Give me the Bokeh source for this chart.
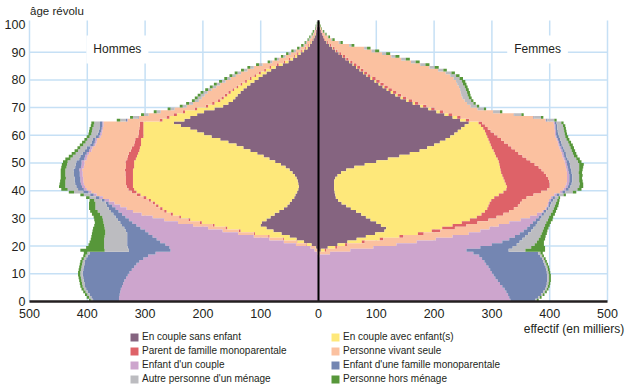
import numpy as np
from bokeh.plotting import figure
from bokeh.models import Label, Legend, LegendItem, Range1d
from bokeh.core.properties import value
from bokeh.embed import file_html
from bokeh.resources import INLINE

ages = list(range(0, 101))

categories = ["En couple sans enfant", "En couple avec enfant(s)",
              "Parent de famille monoparentale", "Personne vivant seule",
              "Enfant d'un couple", "Enfant d'une famille monoparentale",
              "Autre personne d'un ménage", "Personne hors ménage"]
colors = ["#856480", "#fee87a", "#de6268", "#fbc1a0",
          "#cda5cd", "#7486b2", "#bcbcc0", "#57973a"]

x_ticks = [-500, -400, -300, -200, -100, 0, 100, 200, 300, 400, 500]
x_tick_labels = ["500", "400", "300", "200", "100", "0", "100", "200", "300", "400", "500"]
y_ticks = [0, 10, 20, 30, 40, 50, 60, 70, 80, 90, 100]
y_tick_labels = ["0", "10", "20", "30", "40", "50", "60", "70", "80", "90", "100"]

# ---------------- Hommes (milliers) ----------------
men_sans = [0,0,0,0,0,0,0,0,0,0, 0,0,0,0,0,0,0,0,2,5,
            12,25,38,50,64,78,90,100,98,90, 83,76,68,60,54,50,46,42,40,37,
            35,34,35,36,38,41,45,50,57,65, 75,85,95,106,118,130,142,156,170,185,
            198,210,222,238,250,232,222,210,198,180, 165,156,148,144,140,135,130,124,118,111,
            104,97,90,82,74,62,52,44,37,31, 25,19,15,12,9,7,5,4,3,2, 1]
men_avec = [0,0,0,0,0,0,0,0,0,0, 0,0,0,0,0,0,0,0,0,1,
            8,12,22,35,46,57,68,80,104,132, 155,176,195,210,223,233,244,256,268,278,
            284,287,286,285,283,280,276,271,262,254, 244,231,219,206,192,179,165,151,137,118,
            105,93,81,65,53,38,36,35,33,30, 26,24,22,20,18,17,16,15,14,13,
            12,11,10,9,8,7,6,5,4,4, 3,3,2,2,1,1,1,0,0,0, 0]
men_parent = [0,0,0,0,0,0,0,0,0,0, 0,0,0,0,0,0,0,0,0,0,
              1,1,2,2,2,3,3,3,3,3, 3,4,4,4,4,4,4,5,6,8,
              10,11,12,12,12,13,13,14,14,14, 15,15,16,16,15,14,12,11,10,9,
              8,8,7,6,6,5,5,5,4,4, 4,4,4,4,4,4,3,3,3,3,
              3,3,3,3,3,3,2,2,2,2, 2,2,2,1,1,1,1,1,0,0, 0]
men_seule = [0,0,0,0,0,0,0,0,0,0, 0,0,0,0,0,0,0,2,5,8,
             18,22,23,25,27,28,30,34,38,42, 46,50,54,58,62,66,68,70,70,70,
             72,72,73,74,74,74,74,74,73,72, 71,70,70,69,68,68,67,66,66,65,
             64,63,63,63,63,55,48,44,38,35, 33,33,33,34,35,36,36,35,35,34,
             33,32,31,29,27,25,20,17,14,11, 9,7,5,5,4,3,2,2,1,1, 0]
men_enf_couple = [345,345,344,343,342,340,338,336,333,330, 327,323,319,315,310,303,295,280,249,244,
                  226,214,195,175,155,134,117,98,79,61, 47,34,25,19,14,10,8,6,5,5,
                  5,5,5,5,5,5,5,5,5,5, 5,4,4,4,4,4,3,3,3,3,
                  3,2,2,2,2,1,0,0,0,0, 0,0,0,0,0,0,0,0,0,0,
                  0,0,0,0,0,0,0,0,0,0, 0,0,0,0,0,0,0,0,0,0, 0]
men_enf_mono = [45,48,52,56,60,64,67,70,74,78, 81,84,87,90,94,99,104,114,72,72,
                66,57,51,44,37,33,28,25,21,19, 17,15,13,12,9,5,5,6,6,9,
                10,10,10,10,10,10,10,10,10,10, 9,9,8,7,7,6,6,5,5,5,
                4,4,4,4,4,2,1,0,0,0, 0,0,0,0,0,0,0,0,0,0,
                0,0,0,0,0,0,0,0,0,0, 0,0,0,0,0,0,0,0,0,0, 0]
men_autre = [4,4,4,4,4,4,4,4,4,4, 4,4,4,4,4,4,4,4,42,41,
             40,40,40,39,38,36,34,31,29,26, 23,23,23,23,20,18,13,11,11,16,
             18,19,17,16,15,15,15,14,15,15, 15,15,13,12,12,11,12,11,9,11,
             11,12,12,11,10,10,9,8,7,7, 7,7,7,7,7,7,6,6,6,6,
             6,6,6,6,6,6,4,4,4,4, 4,2,2,2,2,2,1,1,1,1, 1]
men_hors = [3,4,4,4,4,4,4,4,4,4, 4,4,4,4,4,4,4,6,42,31,
            27,25,23,23,23,22,20,17,15,15, 15,14,13,11,11,11,8,6,6,9,
            11,11,10,9,9,8,8,8,9,9, 8,9,7,7,6,5,6,6,5,5,
            5,5,5,5,5,6,5,5,5,5, 5,5,5,5,5,5,5,5,5,5,
            5,5,5,5,5,5,4,4,4,4, 4,4,4,2,2,2,2,2,1,1, 1]

# ---------------- Femmes (milliers) ----------------
women_sans = [0,0,0,0,0,0,0,0,0,0, 0,0,0,0,0,0,0,0,4,16,
              33,50,66,82,98,114,117,108,100,90, 82,74,65,56,48,40,34,30,29,28,
              27,27,27,27,29,33,39,48,62,80, 100,120,140,158,175,188,200,210,220,228,
              235,241,247,253,260,245,232,218,204,190, 176,163,152,142,133,125,118,111,104,97,
              90,83,77,71,65,59,53,47,41,35, 29,24,19,14,10,8,6,4,3,2, 1]
women_avec = [0,0,0,0,0,0,0,0,0,0, 0,0,0,0,0,0,0,0,7,13,
              13,25,40,58,74,82,97,124,148,172, 192,208,223,236,246,256,265,274,283,292,
              298,299,297,295,291,285,277,267,252,233, 212,190,167,147,128,112,98,86,74,64,
              55,47,38,28,17,10,8,7,6,5, 5,4,4,4,4,4,3,3,3,3,
              3,2,2,2,2,2,2,1,1,1, 1,1,1,1,0,0,0,0,0,0, 0]
women_parent = [0,0,0,0,0,0,0,0,0,0, 0,0,0,0,0,0,0,0,2,3,
                4,5,6,7,10,15,22,24,27,32, 34,38,42,46,51,53,53,56,60,65,
                71,74,76,77,77,76,74,71,67,61, 55,50,46,41,37,34,30,25,22,18,
                14,10,8,7,6,6,6,6,6,6, 6,6,6,6,6,6,6,6,6,6,
                6,5,5,5,5,5,4,4,4,3, 3,3,2,2,1,1,1,1,0,0, 0]
women_seule = [0,0,0,0,0,0,0,0,0,0, 0,0,0,0,0,0,2,20,42,63,
               85,90,91,85,78,69,60,56,55,56, 58,58,58,55,51,48,47,42,36,33,
               28,27,29,31,33,36,40,43,47,53, 59,64,69,75,79,83,87,93,96,100,
               105,111,115,120,124,132,126,107,86,74, 76,84,91,97,104,111,118,123,127,132,
               135,138,136,129,120,110,101,91,80,71, 59,51,31,18,11,7,4,2,2,1, 0]
women_enf_couple = [332,330,328,325,322,318,314,310,306,303, 300,297,294,290,287,283,276,248,201,185,
                    165,148,127,108,88,75,65,54,41,26, 15,8,2,2,2,2,3,3,4,4,
                    4,4,4,4,4,4,3,3,3,3, 3,3,3,3,3,3,2,2,2,2,
                    2,2,2,2,2,1,0,0,0,0, 0,0,0,0,0,0,0,0,0,0,
                    0,0,0,0,0,0,0,0,0,0, 0,0,0,0,0,0,0,0,0,0, 0]
women_enf_mono = [43,50,57,64,70,76,81,86,90,93, 95,97,99,101,102,104,106,112,73,56,
                  43,30,23,18,15,13,11,10,8,7, 5,4,4,3,3,4,4,4,5,5,
                  5,5,5,5,5,5,5,5,5,5, 5,4,4,4,4,4,4,4,4,4,
                  4,3,3,3,3,2,1,1,0,0, 0,0,0,0,0,0,0,0,0,0,
                  0,0,0,0,0,0,0,0,0,0, 0,0,0,0,0,0,0,0,0,0, 0]
women_autre = [3,3,3,3,3,3,3,3,3,3, 3,3,3,3,3,3,3,4,29,32,
               31,30,28,26,23,20,18,16,15,14, 13,12,11,9,8,8,7,6,7,13,
               15,15,14,12,12,12,12,14,15,16, 15,15,13,12,12,12,13,12,11,11,
               11,11,11,10,8,12,12,12,12,11, 11,11,11,11,11,11,10,10,10,10,
               10,10,10,9,9,9,8,8,7,7, 6,5,4,3,2,1,1,1,0,0, 0]
women_hors = [3,3,3,3,3,3,3,3,3,3, 3,3,3,3,3,3,3,4,34,24,
              16,12,11,9,9,8,8,8,8,8, 7,7,6,6,6,5,4,3,4,6,
              7,7,6,6,5,6,6,6,7,8, 6,6,6,6,6,6,6,5,5,5,
              4,4,4,4,4,4,4,4,4,4, 4,4,4,5,5,5,5,5,6,6,
              6,6,6,6,7,7,7,7,7,7, 7,6,5,4,4,3,2,2,1,1, 1]

men = [men_sans, men_avec, men_parent, men_seule,
       men_enf_couple, men_enf_mono, men_autre, men_hors]
women = [women_sans, women_avec, women_parent, women_seule,
         women_enf_couple, women_enf_mono, women_autre, women_hors]
for s in men + women:
    assert len(s) == len(ages)

TXT = "#231f20"
GRID = "#c6e0f5"
FONT = value("Liberation Sans")

# Whole canvas is the frame: plot area spans x in [-500, 500] and ages [0, 100]
p = figure(width=630, height=391,
           x_range=Range1d(-550.17, 539.79), y_range=Range1d(-32.49, 108.66),
           output_backend="svg", toolbar_location=None,
           x_axis_location=None, y_axis_location=None, min_border=0)
p.outline_line_color = None
p.grid.visible = False

# grid lines (under the bars)
vx = [t for t in x_ticks if t != 0]
p.segment(x0=vx, y0=[0] * len(vx), x1=vx, y1=[101.4] * len(vx),
          line_color=GRID, line_width=1.5)
hy = [t for t in y_ticks if 0 < t < 100]
p.segment(x0=[-500] * len(hy), y0=hy, x1=[500] * len(hy), y1=hy,
          line_color=GRID, line_width=1.5)

# stacked stepped areas (one per category and sex)
age_arr = np.array(ages)
y_step = np.repeat(age_arr, 2) + np.tile([0, 1], len(ages))


def draw(series_list, sign):
    cum = np.zeros(len(ages))
    rends = []
    for s, c in zip(series_list, colors):
        s = np.asarray(s, dtype=float)
        inner, outer = cum.copy(), cum + s
        r = p.harea(x1=sign * np.repeat(inner, 2), x2=sign * np.repeat(outer, 2),
                    y=y_step, fill_color=c)
        rends.append(r)
        cum = outer
    return rends


r_m = draw(men, -1)
r_f = draw(women, 1)

# centre line and bottom axis line
p.segment(x0=[0], y0=[0], x1=[0], y1=[101.5], line_color="#000000", line_width=2)
p.segment(x0=[-500], y0=[0], x1=[500], y1=[0], line_color=TXT, line_width=2.5)

# tick labels
p.text(x=x_ticks, y=[-4.35] * len(x_ticks), text=x_tick_labels, text_font=FONT,
       text_font_size="12.5px", text_color=TXT, text_align="center", text_baseline="middle")
p.text(x=[-507] * len(y_ticks), y=y_ticks, text=y_tick_labels, text_font=FONT,
       text_font_size="12.5px", text_color=TXT, text_align="right", text_baseline="middle")

for txt, xv in (("Hommes", -348), ("Femmes", 379)):
    p.add_layout(Label(x=xv, y=91, text=txt, text_align="center", text_baseline="middle",
                       text_font="Liberation Sans", text_font_size="12px", text_color=TXT,
                       background_fill_color="white", padding=7))

p.add_layout(Label(x=-499, y=105.0, text="âge révolu", text_align="left",
                   text_baseline="middle", text_font="Liberation Sans",
                   text_font_size="11.5px", text_color=TXT))
p.add_layout(Label(x=529, y=-10.1, text="effectif (en milliers)", text_align="right",
                   text_baseline="middle", text_font="Liberation Sans",
                   text_font_size="12px", text_color=TXT))

for idxs, xloc in (((0, 2, 4, 6), 129), ((1, 3, 5, 7), 330)):
    items = [LegendItem(label=categories[i], renderers=[r_f[i]]) for i in idxs]
    leg = Legend(items=items, location=(xloc, 7), orientation="vertical",
                 glyph_width=10, glyph_height=10, label_height=10, spacing=3,
                 padding=0, margin=0, label_standoff=3, border_line_color=None,
                 background_fill_alpha=0, label_text_font="Liberation Sans",
                 label_text_font_size="10px", label_text_color=TXT)
    p.add_layout(leg)

open("out.html", "w").write(file_html(p, INLINE))
